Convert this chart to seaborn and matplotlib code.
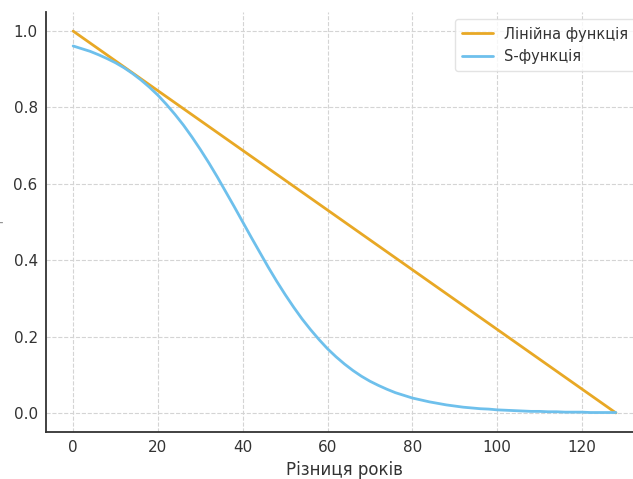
import numpy as np
import seaborn as sns
import pandas as pd
import matplotlib.pyplot as plt

# values
linear_x = [0, 128]
linear_vals = [1.0, 0.0]

s_x = list(range(0, 130, 2))
s_vals = [0.961, 0.954, 0.947, 0.938, 0.928, 0.917, 0.904, 0.889, 0.872,
          0.853, 0.832, 0.808, 0.782, 0.754, 0.723, 0.690, 0.655, 0.618,
          0.579, 0.540, 0.500, 0.460, 0.421, 0.382, 0.345, 0.310, 0.277,
          0.246, 0.218, 0.192, 0.168, 0.147, 0.128, 0.111, 0.096, 0.083,
          0.072, 0.062, 0.053, 0.046, 0.039, 0.034, 0.029, 0.025, 0.021,
          0.018, 0.015, 0.013, 0.011, 0.010, 0.008, 0.007, 0.006, 0.005,
          0.004, 0.004, 0.003, 0.003, 0.002, 0.002, 0.002, 0.001, 0.001,
          0.001, 0.001]
series_names = ['Лінійна функція', 'S-функція']
colors = ['#E8A825', '#6EC0EC']

df = pd.DataFrame({
    'x': linear_x + s_x,
    'y': linear_vals + s_vals,
    'series': [series_names[0]] * len(linear_x) + [series_names[1]] * len(s_x),
})

sns.set_theme(style='white')
plt.rcParams['font.family'] = ['DejaVu Sans']

fig = plt.figure(figsize=(6.33, 4.79), dpi=100)
ax = fig.add_axes([46 / 633, 47 / 479, 597 / 633, 420 / 479])

sns.lineplot(data=df, x='x', y='y', hue='series', palette=colors,
             linewidth=2, ax=ax)

ax.set_xlim(-6.4, 134.4)
ax.set_ylim(-0.05, 1.05)
ax.set_xticks([0, 20, 40, 60, 80, 100, 120])
ax.set_yticks([0.0, 0.2, 0.4, 0.6, 0.8, 1.0])
ax.set_yticklabels(['0.0', '0.2', '0.4', '0.6', '0.8', '1.0'])

ax.grid(True, linestyle='--', color='#d4d4d4', linewidth=0.8)
for s in ['top', 'right']:
    ax.spines[s].set_visible(False)
for s in ['left', 'bottom']:
    ax.spines[s].set_color('#333333')
    ax.spines[s].set_linewidth(1.3)
ax.tick_params(direction='in', length=5, width=1, colors='#333333',
               labelsize=11, pad=6)

ax.set_xlabel('Різниця років', fontsize=12, color='#333333', labelpad=4)
ax.set_ylabel("'", fontsize=7, color='#555555', labelpad=3)

leg = ax.legend(loc='upper right', fontsize=10.5, frameon=True,
                handlelength=2.1, borderpad=0.5)
leg.set_title(None)
leg.get_frame().set_edgecolor('#dddddd')
for t in leg.get_texts():
    t.set_color('#333333')

fig.savefig('out.png', dpi=100)
